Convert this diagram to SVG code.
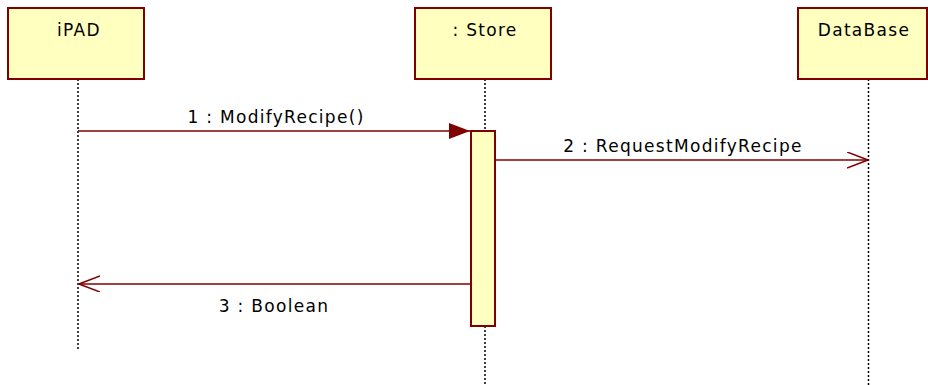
<svg xmlns="http://www.w3.org/2000/svg" width="928" height="385" viewBox="0 0 928 385">
<style>
.box{fill:#ffffc0;stroke:#800000;stroke-width:2}
.life{stroke:#000;stroke-width:1.5;stroke-dasharray:2,2;fill:none}
.msg{stroke:#800000;stroke-width:1.5;fill:none}
text{font-family:"DejaVu Sans","Liberation Sans",sans-serif;font-size:17px;letter-spacing:1.3px;fill:#000;text-anchor:middle}
</style>
<defs>
<marker id="filled" markerWidth="22" markerHeight="16" refX="21" refY="8" orient="auto" markerUnits="userSpaceOnUse">
<path d="M0,0 L21,8 L0,16 Z" fill="#800000"/>
</marker>
<marker id="open" markerWidth="22" markerHeight="18" refX="21" refY="8" orient="auto" markerUnits="userSpaceOnUse">
<path d="M0,0 L21,8 L0,16" fill="none" stroke="#800000" stroke-width="1.5"/>
</marker>
</defs>
<g id="lifelines">
<line class="life" x1="78" y1="79" x2="78" y2="349"/>
<line class="life" x1="485" y1="79" x2="485" y2="131"/>
<line class="life" x1="485" y1="326" x2="485" y2="385"/>
<line class="life" x1="868.5" y1="79" x2="868.5" y2="385"/>
</g>
<g id="iPAD">
<rect class="box" x="8" y="8" width="136" height="71"/>
<text x="79" y="36">iPAD</text>
</g>
<g id="Store">
<rect class="box" x="415" y="8" width="136" height="71"/>
<text x="485" y="36">: Store</text>
</g>
<g id="DataBase">
<rect class="box" x="798" y="8" width="129" height="71"/>
<text x="864" y="36">DataBase</text>
</g>
<g id="activation">
<rect class="box" x="471" y="131" width="24" height="195"/>
</g>
<g id="connectors">
<line class="msg" x1="78" y1="131" x2="470" y2="131" marker-end="url(#filled)"/>
<text x="276" y="123">1 : ModifyRecipe()</text>
<line class="msg" x1="496" y1="160" x2="868" y2="160" marker-end="url(#open)"/>
<text x="683" y="152">2 : RequestModifyRecipe</text>
<line class="msg" x1="470" y1="284" x2="79" y2="284" marker-end="url(#open)"/>
<text x="274" y="312">3 : Boolean</text>
</g>
</svg>
